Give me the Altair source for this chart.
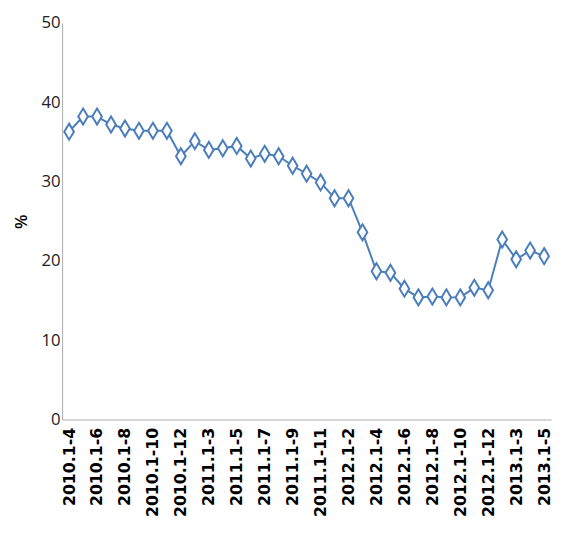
import altair as alt
import pandas as pd

labels = ["2010.1-4","2010.1-5","2010.1-6","2010.1-7","2010.1-8","2010.1-9","2010.1-10","2010.1-11","2010.1-12",
          "2011.1-2","2011.1-3","2011.1-4","2011.1-5","2011.1-6","2011.1-7","2011.1-8","2011.1-9","2011.1-10","2011.1-11","2011.1-12",
          "2012.1-2","2012.1-3","2012.1-4","2012.1-5","2012.1-6","2012.1-7","2012.1-8","2012.1-9","2012.1-10","2012.1-11","2012.1-12",
          "2013.1-2","2013.1-3","2013.1-4","2013.1-5"]
values = [36.3,38.2,38.2,37.2,36.7,36.4,36.4,36.4,33.2,35.1,34.0,34.2,34.5,32.9,33.5,33.2,32.0,31.0,29.9,27.9,27.9,
          23.6,18.7,18.5,16.5,15.4,15.5,15.4,15.4,16.6,16.3,22.7,20.2,21.3,20.6]
shown = labels[::2]

df = pd.DataFrame({"p": labels, "v": values})
x = alt.X("p:N", sort=labels, title=None,
          scale=alt.Scale(paddingOuter=0.25),
          axis=alt.Axis(values=shown, labelAngle=-90, labelFont="DejaVu Sans", labelFontWeight="bold",
                        labelFontSize=16, labelColor="#000", domainColor="#aaa", ticks=False, labelPadding=8))
y = alt.Y("v:Q", title="%", scale=alt.Scale(domain=[0, 50]),
          axis=alt.Axis(values=[0,10,20,30,40,50], grid=False, ticks=False, domainColor="#aaa",
                        labelFont="Open Sans", labelFontSize=17, labelColor="#222", titleFontSize=16,
                        titleFontWeight="bold", titleColor="#000", titlePadding=12))
line = alt.Chart(df).mark_line(color="#4a7ebb", strokeWidth=2).encode(x=x, y=y)
pts = alt.Chart(df).mark_point(shape="M0,-1.25L0.75,0L0,1.25L-0.75,0Z", size=170, filled=True, fill="white",
                               stroke="#4a7ebb", strokeWidth=2, opacity=1).encode(x=x, y=y)
chart = (line + pts).properties(width=497, height=403, padding={"top": 2, "left": 5, "right": 5, "bottom": 5}).configure_view(stroke=None)
chart.save("out.html", embed_options={"renderer": "svg", "actions": False})
